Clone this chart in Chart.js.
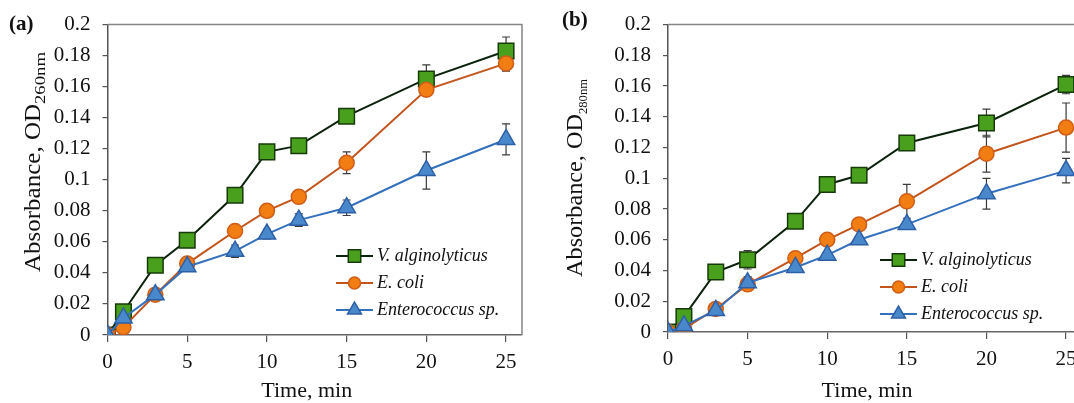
<!DOCTYPE html>
<html>
<head>
<meta charset="utf-8">
<script src="https://cdn.jsdelivr.net/npm/chart.js@4.4.1/dist/chart.umd.min.js"></script>
<style>
  html, body { margin: 0; padding: 0; background: #fff; overflow: hidden; width: 1074px; height: 403px; }
  .panel { position: absolute; top: 0; height: 403px; }
  #wrapA { left: 0; width: 540px; }
  #wrapB { left: 540px; width: 576px; }
</style>
</head>
<body>
<div class="panel" id="wrapA"><canvas id="chartA" width="540" height="403"></canvas></div>
<div class="panel" id="wrapB"><canvas id="chartB" width="576" height="403"></canvas></div>
<script>
// Sampling times (min)
const times = [0, 1, 3, 5, 8, 10, 12, 15, 20, 25];
const seriesNames = ['V. alginolyticus', 'E. coli', 'Enterococcus sp.'];
const xTicks = [0, 5, 10, 15, 20, 25];
const yTicks = [0, 0.02, 0.04, 0.06, 0.08, 0.1, 0.12, 0.14, 0.16, 0.18, 0.2];

// Absorbance at 260 nm
const od260Vibrio = [0, 0.015, 0.045, 0.061, 0.090, 0.118, 0.122, 0.141, 0.165, 0.183];
const od260Ecoli  = [0, 0.005, 0.026, 0.046, 0.067, 0.080, 0.089, 0.111, 0.158, 0.175];
const od260Entero = [0, 0.011, 0.026, 0.044, 0.054, 0.065, 0.074, 0.082, 0.106, 0.126];
const od260VibrioErr = [0, 0.001, 0.004, 0.003, 0.002, 0.002, 0.002, 0.002, 0.009, 0.009];
const od260EcoliErr  = [0, 0.001, 0.002, 0.002, 0.002, 0.002, 0.002, 0.007, 0.004, 0.005];
const od260EnteroErr = [0, 0.001, 0.002, 0.002, 0.004, 0.003, 0.004, 0.005, 0.012, 0.010];

// Absorbance at 280 nm
const od280Vibrio = [0, 0.010, 0.039, 0.047, 0.072, 0.096, 0.102, 0.123, 0.136, 0.161];
const od280Ecoli  = [0, 0.002, 0.015, 0.031, 0.048, 0.060, 0.070, 0.085, 0.116, 0.133];
const od280Entero = [0, 0.004, 0.014, 0.032, 0.042, 0.050, 0.060, 0.070, 0.090, 0.105];
const od280VibrioErr = [0, 0.001, 0.003, 0.006, 0.002, 0.002, 0.002, 0.002, 0.009, 0.006];
const od280EcoliErr  = [0, 0.001, 0.002, 0.003, 0.002, 0.002, 0.002, 0.011, 0.012, 0.016];
const od280EnteroErr = [0, 0.001, 0.002, 0.004, 0.002, 0.002, 0.002, 0.002, 0.010, 0.008];

const SERIF = '"Liberation Serif", "Times New Roman", serif';

const styles = [
  { line: '#0d220d', fill: '#48a01c', edge: '#173a0a', shape: 'rect', r: 11, order: 3 },
  { line: '#c2541c', fill: '#f27d12', edge: '#cf5d18', shape: 'circle', r: 7.5, order: 2 },
  { line: '#3470bb', fill: '#4a88cc', edge: '#2c5fa6', shape: 'triangle', r: 10, order: 1 }
];

function makeDatasets(values, errors) {
  return values.map((vals, k) => ({
    label: seriesNames[k],
    data: times.map((t, i) => ({ x: t, y: vals[i] })),
    errors: errors[k],
    borderColor: styles[k].line,
    borderWidth: 2,
    backgroundColor: styles[k].fill,
    pointStyle: styles[k].shape,
    pointRadius: styles[k].r,
    pointBackgroundColor: styles[k].fill,
    pointBorderColor: styles[k].edge,
    pointBorderWidth: 1.5,
    tension: 0,
    order: styles[k].order
  }));
}

function drawMarker(ctx, shape, r, cx, cy, fill, edge) {
  ctx.save();
  ctx.fillStyle = fill; ctx.strokeStyle = edge; ctx.lineWidth = 1.5;
  ctx.beginPath();
  if (shape === 'rect') {
    const h = r * Math.SQRT1_2;
    ctx.rect(cx - h, cy - h, 2 * h, 2 * h);
  } else if (shape === 'circle') {
    ctx.arc(cx, cy, r, 0, Math.PI * 2);
  } else {
    for (let j = 0; j < 3; j++) {
      const a = j * 2 * Math.PI / 3;
      const px = cx + Math.sin(a) * r, py = cy - Math.cos(a) * r;
      j ? ctx.lineTo(px, py) : ctx.moveTo(px, py);
    }
    ctx.closePath();
  }
  ctx.fill(); ctx.stroke();
  ctx.restore();
}

// Frame, error bars, panel letter, axis titles and legend
const panelDecor = {
  id: 'panelDecor',
  beforeDatasetsDraw(chart, args, o) {
    const { ctx, chartArea: a, scales: { x, y } } = chart;
    ctx.save();
    ctx.strokeStyle = '#858585';
    ctx.lineWidth = 1.5;
    ctx.beginPath();
    ctx.moveTo(a.left, a.top);
    ctx.lineTo(a.right, a.top);
    ctx.lineTo(a.right, a.bottom);
    ctx.stroke();

    ctx.strokeStyle = '#3a3a3a';
    ctx.lineWidth = 1.2;
    chart.data.datasets.forEach(ds => {
      ds.data.forEach((p, i) => {
        const e = ds.errors[i];
        if (!e) return;
        const px = x.getPixelForValue(p.x);
        const yTop = y.getPixelForValue(p.y + e);
        const yBot = y.getPixelForValue(p.y - e);
        ctx.beginPath();
        ctx.moveTo(px, yTop); ctx.lineTo(px, yBot);
        ctx.moveTo(px - 4, yTop); ctx.lineTo(px + 4, yTop);
        ctx.moveTo(px - 4, yBot); ctx.lineTo(px + 4, yBot);
        ctx.stroke();
      });
    });
    ctx.restore();
  },
  afterDraw(chart, args, o) {
    const { ctx, scales: { x } } = chart;
    ctx.save();
    ctx.fillStyle = '#111';

    // panel letter
    ctx.font = 'bold 21px ' + SERIF;
    ctx.textAlign = 'left';
    ctx.textBaseline = 'middle';
    ctx.fillText(o.letter.text, o.letter.x, o.letter.y);

    // x title, centred on the labelled tick range
    ctx.font = '22px ' + SERIF;
    ctx.textAlign = 'center';
    const xMid = (x.getPixelForValue(xTicks[0]) + x.getPixelForValue(xTicks[xTicks.length - 1])) / 2;
    ctx.fillText('Time, min', xMid, o.xTitleY);

    // y title with subscript
    const t = o.yTitle;
    ctx.save();
    ctx.translate(t.x, t.y);
    ctx.rotate(-Math.PI / 2);
    ctx.textAlign = 'left';
    ctx.textBaseline = 'alphabetic';
    ctx.font = t.mainSize + 'px ' + SERIF;
    const w1 = ctx.measureText(t.main).width;
    ctx.font = t.subSize + 'px ' + SERIF;
    const w2 = ctx.measureText(t.sub).width;
    const total = t.mainLen + t.subLen;
    const start = -total / 2;
    ctx.save();
    ctx.translate(start, 0); ctx.scale(t.mainLen / w1, 1);
    ctx.font = t.mainSize + 'px ' + SERIF;
    ctx.fillText(t.main, 0, 0);
    ctx.restore();
    ctx.save();
    ctx.translate(start + t.mainLen, t.subDrop); ctx.scale(t.subLen / w2, 1);
    ctx.font = t.subSize + 'px ' + SERIF;
    ctx.fillText(t.sub, 0, 0);
    ctx.restore();
    ctx.restore();

    // legend
    const L = o.legend;
    chart.data.datasets.forEach((ds, k) => {
      const ry = L.y + k * L.gap;
      ctx.strokeStyle = ds.borderColor;
      ctx.lineWidth = 2;
      ctx.beginPath();
      ctx.moveTo(L.x, ry); ctx.lineTo(L.x + 37, ry);
      ctx.stroke();
      drawMarker(ctx, ds.pointStyle, ds.pointRadius * 0.8, L.x + 18.5, ry, ds.pointBackgroundColor, ds.pointBorderColor);
      ctx.fillStyle = '#111';
      ctx.font = 'italic 18px ' + SERIF;
      ctx.textAlign = 'left';
      ctx.textBaseline = 'middle';
      ctx.fillText(ds.label, L.x + 41, ry);
    });
    ctx.restore();
  }
};

function fmt(v) { return String(Number(v.toFixed(3))); }

function makeChart(id, datasets, cfg) {
  return new Chart(document.getElementById(id), {
    type: 'line',
    data: { datasets },
    plugins: [panelDecor],
    options: {
      responsive: false,
      devicePixelRatio: 1,
      animation: false,
      layout: { padding: { left: 0, top: cfg.top, right: cfg.right, bottom: 0 } },
      plugins: {
        legend: { display: false },
        tooltip: { enabled: false },
        panelDecor: cfg.decor
      },
      scales: {
        x: {
          type: 'linear', min: 0, max: 26,
          afterBuildTicks: s => { s.ticks = xTicks.map(v => ({ value: v })); },
          afterFit: s => { s.height = cfg.xHeight; },
          grid: { drawOnChartArea: false, drawTicks: true, tickLength: 7, color: '#555', lineWidth: 1.2 },
          border: { display: true, color: '#666', width: 1.5 },
          ticks: { font: { family: SERIF, size: 21 }, color: '#111', padding: 8, maxRotation: 0, callback: v => fmt(v) },
          title: { display: false }
        },
        y: {
          type: 'linear', min: 0, max: 0.2,
          afterBuildTicks: s => { s.ticks = yTicks.map(v => ({ value: v })); },
          afterFit: s => { s.width = cfg.yWidth; },
          grid: { drawOnChartArea: false, drawTicks: true, tickLength: 5, color: '#555', lineWidth: 1.2 },
          border: { display: true, color: '#555', width: 1.5 },
          ticks: { font: { family: SERIF, size: 21 }, color: '#111', padding: 12, callback: v => fmt(v) },
          title: { display: false }
        }
      }
    }
  });
}

makeChart('chartA', makeDatasets([od260Vibrio, od260Ecoli, od260Entero], [od260VibrioErr, od260EcoliErr, od260EnteroErr]), {
  top: 23, right: 18, xHeight: 68, yWidth: 107.5,
  decor: {
    letter: { text: '(a)', x: 9, y: 25 },
    xTitleY: 391,
    yTitle: { x: 40, y: 162, main: 'Absorbance, OD', sub: '260nm', mainSize: 23, subSize: 15, mainLen: 168, subLen: 52, subDrop: 5 },
    legend: { x: 336, y: 256, gap: 27 }
  }
});

makeChart('chartB', makeDatasets([od280Vibrio, od280Ecoli, od280Entero], [od280VibrioErr, od280EcoliErr, od280EnteroErr]), {
  top: 20, right: 34, xHeight: 71, yWidth: 128,
  decor: {
    letter: { text: '(b)', x: 22, y: 21 },
    xTitleY: 391,
    yTitle: { x: 42, y: 178, main: 'Absorbance, OD', sub: '280nm', mainSize: 23, subSize: 13, mainLen: 163, subLen: 35, subDrop: 5 },
    legend: { x: 340, y: 260, gap: 27 }
  }
});
</script>
</body>
</html>
